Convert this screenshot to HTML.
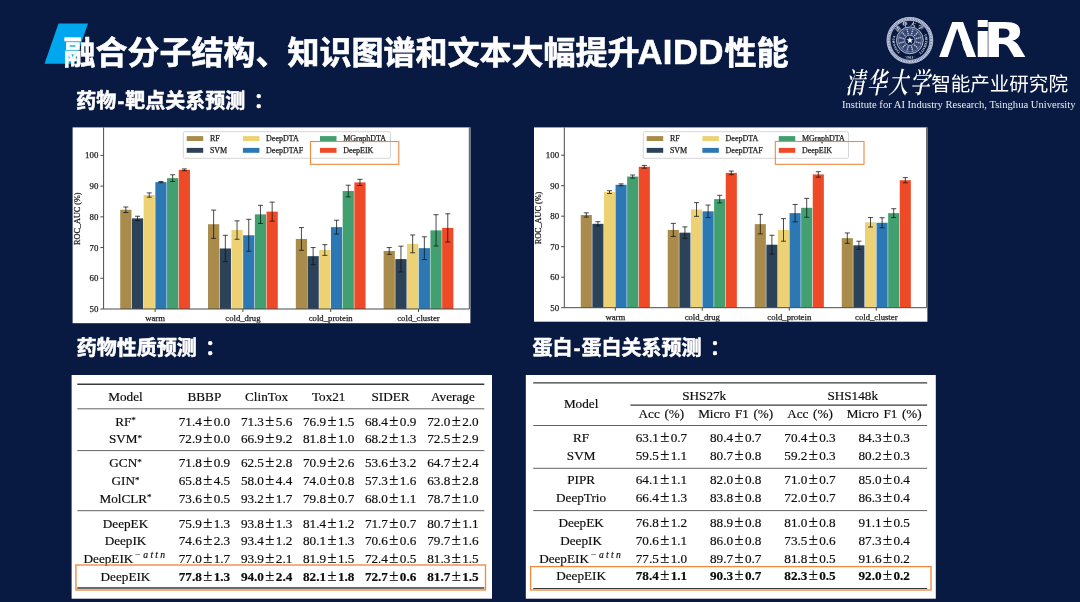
<!DOCTYPE html>
<html lang="zh"><head><meta charset="utf-8"><title>AIDD</title>
<style>
html,body{margin:0;padding:0;background:#081a41;}
body{width:1080px;height:602px;overflow:hidden;position:relative;}
svg{position:absolute;left:0;top:0;display:block;filter:blur(0.45px);}
.cj{font-family:"Liberation Sans","Noto Sans CJK SC",sans-serif;font-weight:bold;fill:#fff;}
.tt{stroke:#fff;stroke-width:0.6px;}
.hd{stroke:#fff;stroke-width:0.55px;}
.sf{font-family:"Liberation Serif","Noto Serif CJK SC",serif;}
.tb{font-family:"Liberation Serif",serif;font-size:13.2px;fill:#0c0c0c;stroke:#0c0c0c;stroke-width:0.18px;text-anchor:middle;}
.ch{font-family:"Liberation Serif",serif;fill:#222;stroke:#222;stroke-width:0.25px;}
</style></head><body>
<svg width="1080" height="602" viewBox="0 0 1080 602">
<rect x="0" y="0" width="1080" height="602" fill="#081a41"/>
<polygon points="58.5,23.5 88,23.5 74,63.8 44.5,63.8" fill="#00a6ee"/>
<text class="cj tt" x="63.5" y="63.9" font-size="32">融合分子结构、知识图谱和文本大幅提升<tspan font-size="34.6" letter-spacing="0.5" x="637.4">AIDD</tspan><tspan x="724.5">性能</tspan></text>
<text class="cj hd" x="76.3" y="108" font-size="20">药物<tspan dx="1.2">-</tspan><tspan dx="1.2">靶点关系预测</tspan><tspan dx="8.5">：</tspan></text>
<text class="cj hd" x="76.8" y="355" font-size="20">药物性质预测<tspan dx="8.5">：</tspan></text>
<text class="cj hd" x="532.5" y="355" font-size="20">蛋白<tspan dx="1.2">-</tspan><tspan dx="1.2">蛋白关系预测</tspan><tspan dx="8.5">：</tspan></text>
<defs><path id="sealT" d="M896.58 34.09A14.7 14.7 0 0 1 923.22 34.09"/><path id="sealR" d="M923.41 33.12A15.3 15.3 0 0 1 917.08 53.81"/><path id="sealL" d="M902.72 53.81A15.3 15.3 0 0 1 896.39 33.12"/><path id="sealB" d="M899.40 55.29A18.3 18.3 0 0 0 920.40 55.29"/></defs>
<g fill="none">
<circle cx="909.9" cy="40.3" r="21.5" stroke="#6f7ca4" stroke-width="3.4"/>
<circle cx="909.9" cy="40.3" r="22.9" stroke="#d3daea" stroke-width="0.7"/>
<circle cx="909.9" cy="40.3" r="21.5" stroke="#dfe4f0" stroke-width="1.7" stroke-dasharray="0.8 0.8"/>
<circle cx="909.9" cy="40.3" r="20.0" stroke="#d3daea" stroke-width="0.7"/>
<circle cx="909.9" cy="40.3" r="13.4" fill="#36456f" stroke="#c3cbe0" stroke-width="0.9"/>
<circle cx="909.9" cy="40.3" r="11.6" stroke="#9aa6c6" stroke-width="0.5"/>
<line x1="915.99" y1="41.93" x2="920.91" y2="43.25" stroke="#c9d1e5" stroke-width="1.3" stroke-dasharray="1.4 0.8"/>
<line x1="914.35" y1="44.75" x2="917.96" y2="48.36" stroke="#c9d1e5" stroke-width="1.3" stroke-dasharray="1.4 0.8"/>
<line x1="911.53" y1="46.39" x2="912.85" y2="51.31" stroke="#c9d1e5" stroke-width="1.3" stroke-dasharray="1.4 0.8"/>
<line x1="908.27" y1="46.39" x2="906.95" y2="51.31" stroke="#c9d1e5" stroke-width="1.3" stroke-dasharray="1.4 0.8"/>
<line x1="905.45" y1="44.75" x2="901.84" y2="48.36" stroke="#c9d1e5" stroke-width="1.3" stroke-dasharray="1.4 0.8"/>
<line x1="903.81" y1="41.93" x2="898.89" y2="43.25" stroke="#c9d1e5" stroke-width="1.3" stroke-dasharray="1.4 0.8"/>
<line x1="903.81" y1="38.67" x2="898.89" y2="37.35" stroke="#c9d1e5" stroke-width="1.3" stroke-dasharray="1.4 0.8"/>
<line x1="905.45" y1="35.85" x2="901.84" y2="32.24" stroke="#c9d1e5" stroke-width="1.3" stroke-dasharray="1.4 0.8"/>
<line x1="908.27" y1="34.21" x2="906.95" y2="29.29" stroke="#c9d1e5" stroke-width="1.3" stroke-dasharray="1.4 0.8"/>
<line x1="911.53" y1="34.21" x2="912.85" y2="29.29" stroke="#c9d1e5" stroke-width="1.3" stroke-dasharray="1.4 0.8"/>
<line x1="914.35" y1="35.85" x2="917.96" y2="32.24" stroke="#c9d1e5" stroke-width="1.3" stroke-dasharray="1.4 0.8"/>
<line x1="915.99" y1="38.67" x2="920.91" y2="37.35" stroke="#c9d1e5" stroke-width="1.3" stroke-dasharray="1.4 0.8"/>
<circle cx="909.9" cy="40.3" r="5.2" fill="#0f2350" stroke="#c3cbe0" stroke-width="0.8"/>
</g>
<polygon points="909.90,36.80 910.75,39.13 913.23,39.22 911.28,40.75 911.96,43.13 909.90,41.75 907.84,43.13 908.52,40.75 906.57,39.22 909.05,39.13" fill="#fff"/>
<g fill="#e6eaf4" text-anchor="middle" font-weight="bold">
<text font-family="'Liberation Serif','Noto Serif CJK SC',serif" font-size="5.4" letter-spacing="1.9" fill="#fff"><textPath href="#sealT" startOffset="50%">清华大学</textPath></text>
<text font-family="'Liberation Serif',serif" font-size="3.2" letter-spacing="0.15" fill="#fff"><textPath href="#sealL" startOffset="50%">TSINGHUA</textPath></text>
<text font-family="'Liberation Serif',serif" font-size="3.2" letter-spacing="0" fill="#fff"><textPath href="#sealR" startOffset="50%">UNIVERSITY</textPath></text>
<text font-family="'Liberation Serif',serif" font-size="3.3" letter-spacing="0.3" fill="#fff"><textPath href="#sealB" startOffset="50%">·1911·</textPath></text>
</g>
<text y="57.3" font-family="'DejaVu Sans','Liberation Sans',sans-serif" font-weight="bold" font-size="48.1" fill="#fff"><tspan x="938.9" textLength="37.3" lengthAdjust="spacingAndGlyphs">A</tspan><tspan x="973.1" textLength="19.5" lengthAdjust="spacingAndGlyphs">i</tspan><tspan x="983.2" textLength="43.2" lengthAdjust="spacingAndGlyphs">R</tspan></text>
<polygon points="947.5,57.8 966.6,57.8 957.15,28.6" fill="#081a41"/>
<text x="0" y="0" font-family="'Noto Serif CJK SC',serif" font-weight="600" font-size="24" letter-spacing="2.6" fill="#fff" transform="translate(845.5 93.2) skewX(-11) scale(0.81 1.2)">清华大学</text>
<text x="931.2" y="90.9" font-family="'Liberation Sans','Noto Sans CJK SC',sans-serif" font-size="19.55" fill="#fff">智能产业研究院</text>
<text x="842" y="108.2" font-family="'Liberation Serif',serif" font-size="10.2" fill="#e8ecf5" textLength="233.5" lengthAdjust="spacingAndGlyphs">Institute for AI Industry Research,  Tsinghua University</text>
<g>
<rect x="72.6" y="127.4" width="397.8" height="195.8" fill="#fff"/>
<rect x="120.23" y="209.77" width="11.21" height="99.23" fill="#a98b4b"/>
<rect x="131.94" y="218.38" width="11.21" height="90.62" fill="#2c4259"/>
<rect x="143.64" y="195.03" width="11.21" height="113.97" fill="#ecd175"/>
<rect x="155.35" y="182.13" width="11.21" height="126.87" fill="#2b78b5"/>
<rect x="167.06" y="178.13" width="11.21" height="130.87" fill="#42a070"/>
<rect x="178.76" y="169.84" width="11.21" height="139.16" fill="#ee4a27"/>
<rect x="208.03" y="224.21" width="11.21" height="84.79" fill="#a98b4b"/>
<rect x="219.74" y="248.48" width="11.21" height="60.52" fill="#2c4259"/>
<rect x="231.44" y="230.05" width="11.21" height="78.95" fill="#ecd175"/>
<rect x="243.15" y="235.27" width="11.21" height="73.73" fill="#2b78b5"/>
<rect x="254.86" y="214.38" width="11.21" height="94.62" fill="#42a070"/>
<rect x="266.56" y="211.62" width="11.21" height="97.38" fill="#ee4a27"/>
<rect x="295.83" y="238.96" width="11.21" height="70.04" fill="#a98b4b"/>
<rect x="307.54" y="256.16" width="11.21" height="52.84" fill="#2c4259"/>
<rect x="319.24" y="250.02" width="11.21" height="58.98" fill="#ecd175"/>
<rect x="330.95" y="227.13" width="11.21" height="81.87" fill="#2b78b5"/>
<rect x="342.66" y="191.04" width="11.21" height="117.96" fill="#42a070"/>
<rect x="354.36" y="182.43" width="11.21" height="126.57" fill="#ee4a27"/>
<rect x="383.63" y="250.94" width="11.21" height="58.06" fill="#a98b4b"/>
<rect x="395.34" y="259.08" width="11.21" height="49.92" fill="#2c4259"/>
<rect x="407.04" y="243.87" width="11.21" height="65.13" fill="#ecd175"/>
<rect x="418.75" y="248.17" width="11.21" height="60.83" fill="#2b78b5"/>
<rect x="430.46" y="230.36" width="11.21" height="78.64" fill="#42a070"/>
<rect x="442.16" y="227.90" width="11.21" height="81.10" fill="#ee4a27"/>
<g stroke="#111" stroke-width="0.85" stroke-opacity="0.9">
<path d="M125.83 207.01V212.54M123.33 207.01h5M123.33 212.54h5" fill="none"/>
<path d="M137.54 216.23V220.53M135.04 216.23h5M135.04 220.53h5" fill="none"/>
<path d="M149.25 192.88V197.18M146.75 192.88h5M146.75 197.18h5" fill="none"/>
<path d="M160.95 181.51V182.74M158.45 181.51h5M158.45 182.74h5" fill="none"/>
<path d="M172.66 174.75V181.51M170.16 174.75h5M170.16 181.51h5" fill="none"/>
<path d="M184.37 168.92V170.76M181.87 168.92h5M181.87 170.76h5" fill="none"/>
<path d="M213.63 210.08V238.34M211.13 210.08h5M211.13 238.34h5" fill="none"/>
<path d="M225.34 235.27V261.69M222.84 235.27h5M222.84 261.69h5" fill="none"/>
<path d="M237.05 220.83V239.27M234.55 220.83h5M234.55 239.27h5" fill="none"/>
<path d="M248.75 219.30V251.25M246.25 219.30h5M246.25 251.25h5" fill="none"/>
<path d="M260.46 205.32V223.44M257.96 205.32h5M257.96 223.44h5" fill="none"/>
<path d="M272.17 202.09V221.14M269.67 202.09h5M269.67 221.14h5" fill="none"/>
<path d="M301.43 227.59V250.32M298.93 227.59h5M298.93 250.32h5" fill="none"/>
<path d="M313.14 247.56V264.76M310.64 247.56h5M310.64 264.76h5" fill="none"/>
<path d="M324.85 244.64V255.39M322.35 244.64h5M322.35 255.39h5" fill="none"/>
<path d="M336.55 220.22V234.04M334.05 220.22h5M334.05 234.04h5" fill="none"/>
<path d="M348.26 185.20V196.87M345.76 185.20h5M345.76 196.87h5" fill="none"/>
<path d="M359.97 179.36V185.51M357.47 179.36h5M357.47 185.51h5" fill="none"/>
<path d="M389.23 247.56V254.32M386.73 247.56h5M386.73 254.32h5" fill="none"/>
<path d="M400.94 246.18V271.98M398.44 246.18h5M398.44 271.98h5" fill="none"/>
<path d="M412.65 234.96V252.78M410.15 234.96h5M410.15 252.78h5" fill="none"/>
<path d="M424.35 236.81V259.54M421.85 236.81h5M421.85 259.54h5" fill="none"/>
<path d="M436.06 214.69V246.02M433.56 214.69h5M433.56 246.02h5" fill="none"/>
<path d="M447.77 213.77V242.03M445.27 213.77h5M445.27 242.03h5" fill="none"/>
</g>
<g stroke="#4a4a4a" stroke-width="1" fill="none">
<path d="M103.60 127.40V309.00H469.30V127.40"/>
<path d="M103.60 309.00h-3.2"/>
<path d="M103.60 278.28h-3.2"/>
<path d="M103.60 247.56h-3.2"/>
<path d="M103.60 216.84h-3.2"/>
<path d="M103.60 186.12h-3.2"/>
<path d="M103.60 155.40h-3.2"/>
<path d="M155.10 309.00v3"/>
<path d="M242.90 309.00v3"/>
<path d="M330.70 309.00v3"/>
<path d="M418.50 309.00v3"/>
</g>
<text class="ch" x="98.40" y="312.00" font-size="8.9" text-anchor="end">50</text>
<text class="ch" x="98.40" y="281.28" font-size="8.9" text-anchor="end">60</text>
<text class="ch" x="98.40" y="250.56" font-size="8.9" text-anchor="end">70</text>
<text class="ch" x="98.40" y="219.84" font-size="8.9" text-anchor="end">80</text>
<text class="ch" x="98.40" y="189.12" font-size="8.9" text-anchor="end">90</text>
<text class="ch" x="98.40" y="158.40" font-size="8.9" text-anchor="end">100</text>
<text class="ch" x="155.10" y="321.30" font-size="8.7" text-anchor="middle">warm</text>
<text class="ch" x="242.90" y="321.30" font-size="8.7" text-anchor="middle">cold_drug</text>
<text class="ch" x="330.70" y="321.30" font-size="8.7" text-anchor="middle">cold_protein</text>
<text class="ch" x="418.50" y="321.30" font-size="8.7" text-anchor="middle">cold_cluster</text>
<text class="ch" font-size="8.2" text-anchor="middle" transform="translate(79.90 218.70) rotate(-90)">ROC_AUC (%)</text>
<rect x="183.30" y="131.7" width="207.10" height="26.6" rx="1.5" fill="#fff" fill-opacity="0.8" stroke="#ccc" stroke-width="0.8"/>
<rect x="186.70" y="136.10" width="16.5" height="4.9" fill="#a98b4b"/>
<text class="ch" x="209.90" y="141.30" font-size="8">RF</text>
<rect x="186.70" y="147.90" width="16.5" height="4.9" fill="#2c4259"/>
<text class="ch" x="209.90" y="153.10" font-size="8">SVM</text>
<rect x="242.90" y="136.10" width="16.5" height="4.9" fill="#ecd175"/>
<text class="ch" x="266.10" y="141.30" font-size="8">DeepDTA</text>
<rect x="242.90" y="147.90" width="16.5" height="4.9" fill="#2b78b5"/>
<text class="ch" x="266.10" y="153.10" font-size="8">DeepDTAF</text>
<rect x="320.00" y="136.10" width="16.5" height="4.9" fill="#42a070"/>
<text class="ch" x="343.20" y="141.30" font-size="8">MGraphDTA</text>
<rect x="320.00" y="147.90" width="16.5" height="4.9" fill="#ee4a27"/>
<text class="ch" x="343.20" y="153.10" font-size="8">DeepEIK</text>
<rect x="310.50" y="141.50" width="88.30" height="22.80" fill="none" stroke="#ee8a42" stroke-width="1.1"/>
</g>
<g>
<rect x="534" y="127.4" width="393.4" height="194.3" fill="#fff"/>
<rect x="580.75" y="214.98" width="11.10" height="92.72" fill="#a98b4b"/>
<rect x="592.35" y="223.82" width="11.10" height="83.88" fill="#2c4259"/>
<rect x="603.95" y="192.10" width="11.10" height="115.60" fill="#ecd175"/>
<rect x="615.55" y="184.79" width="11.10" height="122.91" fill="#2b78b5"/>
<rect x="627.15" y="176.55" width="11.10" height="131.15" fill="#42a070"/>
<rect x="638.75" y="166.79" width="11.10" height="140.91" fill="#ee4a27"/>
<rect x="667.75" y="229.93" width="11.10" height="77.77" fill="#a98b4b"/>
<rect x="679.35" y="232.67" width="11.10" height="75.03" fill="#2c4259"/>
<rect x="690.95" y="209.49" width="11.10" height="98.21" fill="#ecd175"/>
<rect x="702.55" y="211.32" width="11.10" height="96.38" fill="#2b78b5"/>
<rect x="714.15" y="199.12" width="11.10" height="108.58" fill="#42a070"/>
<rect x="725.75" y="172.89" width="11.10" height="134.81" fill="#ee4a27"/>
<rect x="754.75" y="224.13" width="11.10" height="83.57" fill="#a98b4b"/>
<rect x="766.35" y="244.72" width="11.10" height="62.98" fill="#2c4259"/>
<rect x="777.95" y="229.93" width="11.10" height="77.77" fill="#ecd175"/>
<rect x="789.55" y="213.15" width="11.10" height="94.55" fill="#2b78b5"/>
<rect x="801.15" y="207.81" width="11.10" height="99.89" fill="#42a070"/>
<rect x="812.75" y="174.41" width="11.10" height="133.28" fill="#ee4a27"/>
<rect x="841.75" y="238.16" width="11.10" height="69.54" fill="#a98b4b"/>
<rect x="853.35" y="245.33" width="11.10" height="62.37" fill="#2c4259"/>
<rect x="864.95" y="222.30" width="11.10" height="85.40" fill="#ecd175"/>
<rect x="876.55" y="222.76" width="11.10" height="84.94" fill="#2b78b5"/>
<rect x="888.15" y="213.15" width="11.10" height="94.55" fill="#42a070"/>
<rect x="899.75" y="180.21" width="11.10" height="127.49" fill="#ee4a27"/>
<g stroke="#111" stroke-width="0.85" stroke-opacity="0.9">
<path d="M586.30 212.84V217.11M583.80 212.84h5M583.80 217.11h5" fill="none"/>
<path d="M597.90 221.69V225.96M595.40 221.69h5M595.40 225.96h5" fill="none"/>
<path d="M609.50 190.73V193.48M607.00 190.73h5M607.00 193.48h5" fill="none"/>
<path d="M621.10 183.87V185.70M618.60 183.87h5M618.60 185.70h5" fill="none"/>
<path d="M632.70 175.03V178.07M630.20 175.03h5M630.20 178.07h5" fill="none"/>
<path d="M644.30 165.42V168.16M641.80 165.42h5M641.80 168.16h5" fill="none"/>
<path d="M673.30 223.37V236.48M670.80 223.37h5M670.80 236.48h5" fill="none"/>
<path d="M684.90 226.88V238.47M682.40 226.88h5M682.40 238.47h5" fill="none"/>
<path d="M696.50 202.63V216.35M694.00 202.63h5M694.00 216.35h5" fill="none"/>
<path d="M708.10 205.07V217.57M705.60 205.07h5M705.60 217.57h5" fill="none"/>
<path d="M719.70 195.31V202.93M717.20 195.31h5M717.20 202.93h5" fill="none"/>
<path d="M731.30 171.06V174.72M728.80 171.06h5M728.80 174.72h5" fill="none"/>
<path d="M760.30 214.37V233.89M757.80 214.37h5M757.80 233.89h5" fill="none"/>
<path d="M771.90 235.26V254.17M769.40 235.26h5M769.40 254.17h5" fill="none"/>
<path d="M783.50 218.64V241.21M781.00 218.64h5M781.00 241.21h5" fill="none"/>
<path d="M795.10 204.46V221.84M792.60 204.46h5M792.60 221.84h5" fill="none"/>
<path d="M806.70 198.36V217.27M804.20 198.36h5M804.20 217.27h5" fill="none"/>
<path d="M818.30 171.67V177.16M815.80 171.67h5M815.80 177.16h5" fill="none"/>
<path d="M847.30 232.97V243.35M844.80 232.97h5M844.80 243.35h5" fill="none"/>
<path d="M858.90 241.21V249.44M856.40 241.21h5M856.40 249.44h5" fill="none"/>
<path d="M870.50 217.57V227.03M868.00 217.57h5M868.00 227.03h5" fill="none"/>
<path d="M882.10 217.72V227.79M879.60 217.72h5M879.60 227.79h5" fill="none"/>
<path d="M893.70 208.73V217.57M891.20 208.73h5M891.20 217.57h5" fill="none"/>
<path d="M905.30 177.62V182.80M902.80 177.62h5M902.80 182.80h5" fill="none"/>
</g>
<g stroke="#4a4a4a" stroke-width="1" fill="none">
<path d="M564.30 127.40V307.70H926.70V127.40"/>
<path d="M564.30 307.70h-3.2"/>
<path d="M564.30 277.20h-3.2"/>
<path d="M564.30 246.70h-3.2"/>
<path d="M564.30 216.20h-3.2"/>
<path d="M564.30 185.70h-3.2"/>
<path d="M564.30 155.20h-3.2"/>
<path d="M615.30 307.70v3"/>
<path d="M702.30 307.70v3"/>
<path d="M789.30 307.70v3"/>
<path d="M876.30 307.70v3"/>
</g>
<text class="ch" x="559.10" y="310.70" font-size="8.9" text-anchor="end">50</text>
<text class="ch" x="559.10" y="280.20" font-size="8.9" text-anchor="end">60</text>
<text class="ch" x="559.10" y="249.70" font-size="8.9" text-anchor="end">70</text>
<text class="ch" x="559.10" y="219.20" font-size="8.9" text-anchor="end">80</text>
<text class="ch" x="559.10" y="188.70" font-size="8.9" text-anchor="end">90</text>
<text class="ch" x="559.10" y="158.20" font-size="8.9" text-anchor="end">100</text>
<text class="ch" x="615.30" y="320.00" font-size="8.7" text-anchor="middle">warm</text>
<text class="ch" x="702.30" y="320.00" font-size="8.7" text-anchor="middle">cold_drug</text>
<text class="ch" x="789.30" y="320.00" font-size="8.7" text-anchor="middle">cold_protein</text>
<text class="ch" x="876.30" y="320.00" font-size="8.7" text-anchor="middle">cold_cluster</text>
<text class="ch" font-size="8.2" text-anchor="middle" transform="translate(541.30 218.05) rotate(-90)">ROC_AUC (%)</text>
<rect x="643.30" y="131.7" width="205.21" height="26.6" rx="1.5" fill="#fff" fill-opacity="0.8" stroke="#ccc" stroke-width="0.8"/>
<rect x="646.70" y="136.10" width="16.5" height="4.9" fill="#a98b4b"/>
<text class="ch" x="669.90" y="141.30" font-size="8">RF</text>
<rect x="646.70" y="147.90" width="16.5" height="4.9" fill="#2c4259"/>
<text class="ch" x="669.90" y="153.10" font-size="8">SVM</text>
<rect x="702.36" y="136.10" width="16.5" height="4.9" fill="#ecd175"/>
<text class="ch" x="725.56" y="141.30" font-size="8">DeepDTA</text>
<rect x="702.36" y="147.90" width="16.5" height="4.9" fill="#2b78b5"/>
<text class="ch" x="725.56" y="153.10" font-size="8">DeepDTAF</text>
<rect x="778.75" y="136.10" width="16.5" height="4.9" fill="#42a070"/>
<text class="ch" x="801.95" y="141.30" font-size="8">MGraphDTA</text>
<rect x="778.75" y="147.90" width="16.5" height="4.9" fill="#ee4a27"/>
<text class="ch" x="801.95" y="153.10" font-size="8">DeepEIK</text>
<rect x="775.30" y="141.50" width="88.70" height="22.80" fill="none" stroke="#ee8a42" stroke-width="1.1"/>
</g>
<g>
<rect x="71.6" y="375" width="420.4" height="223.7" fill="#fff"/>
<line x1="77.30" x2="484.30" y1="384.30" y2="384.30" stroke="#3a3a3a" stroke-width="1.4"/>
<text class="tb" x="125.50" y="401.20">Model</text>
<text class="tb" x="204.40" y="401.20">BBBP</text>
<text class="tb" x="266.60" y="401.20">ClinTox</text>
<text class="tb" x="328.70" y="401.20">Tox21</text>
<text class="tb" x="390.60" y="401.20">SIDER</text>
<text class="tb" x="452.90" y="401.20">Average</text>
<line x1="77.30" x2="484.30" y1="408.80" y2="408.80" stroke="#3a3a3a" stroke-width="0.8"/>
<line x1="77.30" x2="484.30" y1="450.60" y2="450.60" stroke="#3a3a3a" stroke-width="0.8"/>
<line x1="77.30" x2="484.30" y1="510.70" y2="510.70" stroke="#3a3a3a" stroke-width="0.8"/>
<text class="tb" x="125.50" y="425.60">RF<tspan dy="-2.2" font-size="9">*</tspan></text>
<text class="tb" x="204.40" y="425.60">71.4<tspan font-weight="normal" font-size="16.5" dx="1.4">±</tspan><tspan dx="1.4">0.0</tspan></text>
<text class="tb" x="266.60" y="425.60">71.3<tspan font-weight="normal" font-size="16.5" dx="1.4">±</tspan><tspan dx="1.4">5.6</tspan></text>
<text class="tb" x="328.70" y="425.60">76.9<tspan font-weight="normal" font-size="16.5" dx="1.4">±</tspan><tspan dx="1.4">1.5</tspan></text>
<text class="tb" x="390.60" y="425.60">68.4<tspan font-weight="normal" font-size="16.5" dx="1.4">±</tspan><tspan dx="1.4">0.9</tspan></text>
<text class="tb" x="452.90" y="425.60">72.0<tspan font-weight="normal" font-size="16.5" dx="1.4">±</tspan><tspan dx="1.4">2.0</tspan></text>
<text class="tb" x="125.50" y="443.20">SVM<tspan dy="-2.2" font-size="9">*</tspan></text>
<text class="tb" x="204.40" y="443.20">72.9<tspan font-weight="normal" font-size="16.5" dx="1.4">±</tspan><tspan dx="1.4">0.0</tspan></text>
<text class="tb" x="266.60" y="443.20">66.9<tspan font-weight="normal" font-size="16.5" dx="1.4">±</tspan><tspan dx="1.4">9.2</tspan></text>
<text class="tb" x="328.70" y="443.20">81.8<tspan font-weight="normal" font-size="16.5" dx="1.4">±</tspan><tspan dx="1.4">1.0</tspan></text>
<text class="tb" x="390.60" y="443.20">68.2<tspan font-weight="normal" font-size="16.5" dx="1.4">±</tspan><tspan dx="1.4">1.3</tspan></text>
<text class="tb" x="452.90" y="443.20">72.5<tspan font-weight="normal" font-size="16.5" dx="1.4">±</tspan><tspan dx="1.4">2.9</tspan></text>
<text class="tb" x="125.50" y="467.40">GCN<tspan dy="-2.2" font-size="9">*</tspan></text>
<text class="tb" x="204.40" y="467.40">71.8<tspan font-weight="normal" font-size="16.5" dx="1.4">±</tspan><tspan dx="1.4">0.9</tspan></text>
<text class="tb" x="266.60" y="467.40">62.5<tspan font-weight="normal" font-size="16.5" dx="1.4">±</tspan><tspan dx="1.4">2.8</tspan></text>
<text class="tb" x="328.70" y="467.40">70.9<tspan font-weight="normal" font-size="16.5" dx="1.4">±</tspan><tspan dx="1.4">2.6</tspan></text>
<text class="tb" x="390.60" y="467.40">53.6<tspan font-weight="normal" font-size="16.5" dx="1.4">±</tspan><tspan dx="1.4">3.2</tspan></text>
<text class="tb" x="452.90" y="467.40">64.7<tspan font-weight="normal" font-size="16.5" dx="1.4">±</tspan><tspan dx="1.4">2.4</tspan></text>
<text class="tb" x="125.50" y="484.70">GIN<tspan dy="-2.2" font-size="9">*</tspan></text>
<text class="tb" x="204.40" y="484.70">65.8<tspan font-weight="normal" font-size="16.5" dx="1.4">±</tspan><tspan dx="1.4">4.5</tspan></text>
<text class="tb" x="266.60" y="484.70">58.0<tspan font-weight="normal" font-size="16.5" dx="1.4">±</tspan><tspan dx="1.4">4.4</tspan></text>
<text class="tb" x="328.70" y="484.70">74.0<tspan font-weight="normal" font-size="16.5" dx="1.4">±</tspan><tspan dx="1.4">0.8</tspan></text>
<text class="tb" x="390.60" y="484.70">57.3<tspan font-weight="normal" font-size="16.5" dx="1.4">±</tspan><tspan dx="1.4">1.6</tspan></text>
<text class="tb" x="452.90" y="484.70">63.8<tspan font-weight="normal" font-size="16.5" dx="1.4">±</tspan><tspan dx="1.4">2.8</tspan></text>
<text class="tb" x="125.50" y="502.50">MolCLR<tspan dy="-2.2" font-size="9">*</tspan></text>
<text class="tb" x="204.40" y="502.50">73.6<tspan font-weight="normal" font-size="16.5" dx="1.4">±</tspan><tspan dx="1.4">0.5</tspan></text>
<text class="tb" x="266.60" y="502.50">93.2<tspan font-weight="normal" font-size="16.5" dx="1.4">±</tspan><tspan dx="1.4">1.7</tspan></text>
<text class="tb" x="328.70" y="502.50">79.8<tspan font-weight="normal" font-size="16.5" dx="1.4">±</tspan><tspan dx="1.4">0.7</tspan></text>
<text class="tb" x="390.60" y="502.50">68.0<tspan font-weight="normal" font-size="16.5" dx="1.4">±</tspan><tspan dx="1.4">1.1</tspan></text>
<text class="tb" x="452.90" y="502.50">78.7<tspan font-weight="normal" font-size="16.5" dx="1.4">±</tspan><tspan dx="1.4">1.0</tspan></text>
<text class="tb" x="125.50" y="527.90">DeepEK</text>
<text class="tb" x="204.40" y="527.90">75.9<tspan font-weight="normal" font-size="16.5" dx="1.4">±</tspan><tspan dx="1.4">1.3</tspan></text>
<text class="tb" x="266.60" y="527.90">93.8<tspan font-weight="normal" font-size="16.5" dx="1.4">±</tspan><tspan dx="1.4">1.3</tspan></text>
<text class="tb" x="328.70" y="527.90">81.4<tspan font-weight="normal" font-size="16.5" dx="1.4">±</tspan><tspan dx="1.4">1.2</tspan></text>
<text class="tb" x="390.60" y="527.90">71.7<tspan font-weight="normal" font-size="16.5" dx="1.4">±</tspan><tspan dx="1.4">0.7</tspan></text>
<text class="tb" x="452.90" y="527.90">80.7<tspan font-weight="normal" font-size="16.5" dx="1.4">±</tspan><tspan dx="1.4">1.1</tspan></text>
<text class="tb" x="125.50" y="545.20">DeepIK</text>
<text class="tb" x="204.40" y="545.20">74.6<tspan font-weight="normal" font-size="16.5" dx="1.4">±</tspan><tspan dx="1.4">2.3</tspan></text>
<text class="tb" x="266.60" y="545.20">93.4<tspan font-weight="normal" font-size="16.5" dx="1.4">±</tspan><tspan dx="1.4">1.2</tspan></text>
<text class="tb" x="328.70" y="545.20">80.1<tspan font-weight="normal" font-size="16.5" dx="1.4">±</tspan><tspan dx="1.4">1.3</tspan></text>
<text class="tb" x="390.60" y="545.20">70.6<tspan font-weight="normal" font-size="16.5" dx="1.4">±</tspan><tspan dx="1.4">0.6</tspan></text>
<text class="tb" x="452.90" y="545.20">79.7<tspan font-weight="normal" font-size="16.5" dx="1.4">±</tspan><tspan dx="1.4">1.6</tspan></text>
<text class="tb" x="125.50" y="562.70">DeepEIK<tspan dy="-4.8" dx="1.2" font-size="9.6" font-style="italic" letter-spacing="2.3">−attn</tspan></text>
<text class="tb" x="204.40" y="562.70">77.0<tspan font-weight="normal" font-size="16.5" dx="1.4">±</tspan><tspan dx="1.4">1.7</tspan></text>
<text class="tb" x="266.60" y="562.70">93.9<tspan font-weight="normal" font-size="16.5" dx="1.4">±</tspan><tspan dx="1.4">2.1</tspan></text>
<text class="tb" x="328.70" y="562.70">81.9<tspan font-weight="normal" font-size="16.5" dx="1.4">±</tspan><tspan dx="1.4">1.5</tspan></text>
<text class="tb" x="390.60" y="562.70">72.4<tspan font-weight="normal" font-size="16.5" dx="1.4">±</tspan><tspan dx="1.4">0.5</tspan></text>
<text class="tb" x="452.90" y="562.70">81.3<tspan font-weight="normal" font-size="16.5" dx="1.4">±</tspan><tspan dx="1.4">1.5</tspan></text>
<text class="tb" x="125.50" y="580.50">DeepEIK</text>
<text class="tb" x="204.40" y="580.50" font-weight="bold">77.8<tspan font-weight="normal" font-size="16.5" dx="1.4">±</tspan><tspan dx="1.4">1.3</tspan></text>
<text class="tb" x="266.60" y="580.50" font-weight="bold">94.0<tspan font-weight="normal" font-size="16.5" dx="1.4">±</tspan><tspan dx="1.4">2.4</tspan></text>
<text class="tb" x="328.70" y="580.50" font-weight="bold">82.1<tspan font-weight="normal" font-size="16.5" dx="1.4">±</tspan><tspan dx="1.4">1.8</tspan></text>
<text class="tb" x="390.60" y="580.50" font-weight="bold">72.7<tspan font-weight="normal" font-size="16.5" dx="1.4">±</tspan><tspan dx="1.4">0.6</tspan></text>
<text class="tb" x="452.90" y="580.50" font-weight="bold">81.7<tspan font-weight="normal" font-size="16.5" dx="1.4">±</tspan><tspan dx="1.4">1.5</tspan></text>
<line x1="77.30" x2="484.30" y1="588.00" y2="588.00" stroke="#3a3a3a" stroke-width="1.4"/>
<rect x="75.9" y="565.0" width="409.6" height="25" fill="none" stroke="#ee8a42" stroke-width="1.35"/>
</g>
<g>
<rect x="525.8" y="375" width="410" height="223.7" fill="#fff"/>
<line x1="533.20" x2="927.20" y1="382.80" y2="382.80" stroke="#3a3a3a" stroke-width="1.2"/>
<text class="tb" x="704.20" y="399.60">SHS27k</text>
<text class="tb" x="852.70" y="399.60">SHS148k</text>
<line x1="630.40" x2="927.20" y1="405.10" y2="405.10" stroke="#3a3a3a" stroke-width="1.1"/>
<text class="tb" x="581.10" y="407.80">Model</text>
<text class="tb" x="661.40" y="418.00" word-spacing="1.3">Acc (%)</text>
<text class="tb" x="735.70" y="418.00" word-spacing="1.3">Micro F1 (%)</text>
<text class="tb" x="810.00" y="418.00" word-spacing="1.3">Acc (%)</text>
<text class="tb" x="884.20" y="418.00" word-spacing="1.3">Micro F1 (%)</text>
<line x1="533.20" x2="927.20" y1="425.50" y2="425.50" stroke="#3a3a3a" stroke-width="0.8"/>
<line x1="533.20" x2="927.20" y1="468.30" y2="468.30" stroke="#3a3a3a" stroke-width="0.8"/>
<line x1="533.20" x2="927.20" y1="510.60" y2="510.60" stroke="#3a3a3a" stroke-width="0.8"/>
<text class="tb" x="581.10" y="442.00">RF</text>
<text class="tb" x="661.40" y="442.00">63.1<tspan font-weight="normal" font-size="16.5" dx="1.4">±</tspan><tspan dx="1.4">0.7</tspan></text>
<text class="tb" x="735.70" y="442.00">80.4<tspan font-weight="normal" font-size="16.5" dx="1.4">±</tspan><tspan dx="1.4">0.7</tspan></text>
<text class="tb" x="810.00" y="442.00">70.4<tspan font-weight="normal" font-size="16.5" dx="1.4">±</tspan><tspan dx="1.4">0.3</tspan></text>
<text class="tb" x="884.20" y="442.00">84.3<tspan font-weight="normal" font-size="16.5" dx="1.4">±</tspan><tspan dx="1.4">0.3</tspan></text>
<text class="tb" x="581.10" y="459.90">SVM</text>
<text class="tb" x="661.40" y="459.90">59.5<tspan font-weight="normal" font-size="16.5" dx="1.4">±</tspan><tspan dx="1.4">1.1</tspan></text>
<text class="tb" x="735.70" y="459.90">80.7<tspan font-weight="normal" font-size="16.5" dx="1.4">±</tspan><tspan dx="1.4">0.8</tspan></text>
<text class="tb" x="810.00" y="459.90">59.2<tspan font-weight="normal" font-size="16.5" dx="1.4">±</tspan><tspan dx="1.4">0.3</tspan></text>
<text class="tb" x="884.20" y="459.90">80.2<tspan font-weight="normal" font-size="16.5" dx="1.4">±</tspan><tspan dx="1.4">0.3</tspan></text>
<text class="tb" x="581.10" y="484.30">PIPR</text>
<text class="tb" x="661.40" y="484.30">64.1<tspan font-weight="normal" font-size="16.5" dx="1.4">±</tspan><tspan dx="1.4">1.1</tspan></text>
<text class="tb" x="735.70" y="484.30">82.0<tspan font-weight="normal" font-size="16.5" dx="1.4">±</tspan><tspan dx="1.4">0.8</tspan></text>
<text class="tb" x="810.00" y="484.30">71.0<tspan font-weight="normal" font-size="16.5" dx="1.4">±</tspan><tspan dx="1.4">0.7</tspan></text>
<text class="tb" x="884.20" y="484.30">85.0<tspan font-weight="normal" font-size="16.5" dx="1.4">±</tspan><tspan dx="1.4">0.4</tspan></text>
<text class="tb" x="581.10" y="502.00">DeepTrio</text>
<text class="tb" x="661.40" y="502.00">66.4<tspan font-weight="normal" font-size="16.5" dx="1.4">±</tspan><tspan dx="1.4">1.3</tspan></text>
<text class="tb" x="735.70" y="502.00">83.8<tspan font-weight="normal" font-size="16.5" dx="1.4">±</tspan><tspan dx="1.4">0.8</tspan></text>
<text class="tb" x="810.00" y="502.00">72.0<tspan font-weight="normal" font-size="16.5" dx="1.4">±</tspan><tspan dx="1.4">0.7</tspan></text>
<text class="tb" x="884.20" y="502.00">86.3<tspan font-weight="normal" font-size="16.5" dx="1.4">±</tspan><tspan dx="1.4">0.4</tspan></text>
<text class="tb" x="581.10" y="527.40">DeepEK</text>
<text class="tb" x="661.40" y="527.40">76.8<tspan font-weight="normal" font-size="16.5" dx="1.4">±</tspan><tspan dx="1.4">1.2</tspan></text>
<text class="tb" x="735.70" y="527.40">88.9<tspan font-weight="normal" font-size="16.5" dx="1.4">±</tspan><tspan dx="1.4">0.8</tspan></text>
<text class="tb" x="810.00" y="527.40">81.0<tspan font-weight="normal" font-size="16.5" dx="1.4">±</tspan><tspan dx="1.4">0.8</tspan></text>
<text class="tb" x="884.20" y="527.40">91.1<tspan font-weight="normal" font-size="16.5" dx="1.4">±</tspan><tspan dx="1.4">0.5</tspan></text>
<text class="tb" x="581.10" y="545.20">DeepIK</text>
<text class="tb" x="661.40" y="545.20">70.6<tspan font-weight="normal" font-size="16.5" dx="1.4">±</tspan><tspan dx="1.4">1.1</tspan></text>
<text class="tb" x="735.70" y="545.20">86.0<tspan font-weight="normal" font-size="16.5" dx="1.4">±</tspan><tspan dx="1.4">0.8</tspan></text>
<text class="tb" x="810.00" y="545.20">73.5<tspan font-weight="normal" font-size="16.5" dx="1.4">±</tspan><tspan dx="1.4">0.6</tspan></text>
<text class="tb" x="884.20" y="545.20">87.3<tspan font-weight="normal" font-size="16.5" dx="1.4">±</tspan><tspan dx="1.4">0.4</tspan></text>
<text class="tb" x="581.10" y="563.00">DeepEIK<tspan dy="-4.8" dx="1.2" font-size="9.6" font-style="italic" letter-spacing="2.3">−attn</tspan></text>
<text class="tb" x="661.40" y="563.00">77.5<tspan font-weight="normal" font-size="16.5" dx="1.4">±</tspan><tspan dx="1.4">1.0</tspan></text>
<text class="tb" x="735.70" y="563.00">89.7<tspan font-weight="normal" font-size="16.5" dx="1.4">±</tspan><tspan dx="1.4">0.7</tspan></text>
<text class="tb" x="810.00" y="563.00">81.8<tspan font-weight="normal" font-size="16.5" dx="1.4">±</tspan><tspan dx="1.4">0.5</tspan></text>
<text class="tb" x="884.20" y="563.00">91.6<tspan font-weight="normal" font-size="16.5" dx="1.4">±</tspan><tspan dx="1.4">0.2</tspan></text>
<text class="tb" x="581.10" y="580.40">DeepEIK</text>
<text class="tb" x="661.40" y="580.40" font-weight="bold">78.4<tspan font-weight="normal" font-size="16.5" dx="1.4">±</tspan><tspan dx="1.4">1.1</tspan></text>
<text class="tb" x="735.70" y="580.40" font-weight="bold">90.3<tspan font-weight="normal" font-size="16.5" dx="1.4">±</tspan><tspan dx="1.4">0.7</tspan></text>
<text class="tb" x="810.00" y="580.40" font-weight="bold">82.3<tspan font-weight="normal" font-size="16.5" dx="1.4">±</tspan><tspan dx="1.4">0.5</tspan></text>
<text class="tb" x="884.20" y="580.40" font-weight="bold">92.0<tspan font-weight="normal" font-size="16.5" dx="1.4">±</tspan><tspan dx="1.4">0.2</tspan></text>
<line x1="533.20" x2="927.20" y1="588.50" y2="588.50" stroke="#3a3a3a" stroke-width="1.2"/>
<rect x="530.6" y="566.6" width="400.4" height="23.4" fill="none" stroke="#ee8a42" stroke-width="1.35"/>
</g>
</svg>
</body></html>
